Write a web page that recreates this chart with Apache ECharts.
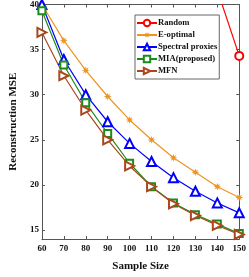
<!DOCTYPE html>
<html><head><meta charset="utf-8">
<script src="https://cdn.jsdelivr.net/npm/echarts@6/dist/echarts.min.js"></script>
<style>html,body{margin:0;padding:0;background:#fff}#c{width:249px;height:277px}</style>
</head><body><div id="c"></div>
<script>
const sampleSizes = [60, 70, 80, 90, 100, 110, 120, 130, 140, 150];
const randomMSE   = [null, null, null, null, null, null, null, null, 41.6, 34.3];
const eOptimal    = [40.0, 36.0, 32.7, 29.8, 27.2, 25.0, 23.0, 21.4, 19.8, 18.6];
const spectral    = [40.0, 33.9, 30.0, 27.0, 24.6, 22.6, 20.8, 19.3, 18.0, 16.9];
const mia         = [39.3, 33.3, 29.1, 25.7, 22.4, 19.8, 18.0, 16.7, 15.65, 14.6];
const mfn         = [36.9, 32.1, 28.3, 25.0, 22.1, 19.8, 17.9, 16.6, 15.5, 14.5];
const yTickValues = [15, 20, 25, 30, 35, 40];

const font = '"Liberation Serif", "Times New Roman", serif';
const axisColor = '#555';
function pairs(arr){ return sampleSizes.map((x,i)=>[x, arr[i]]); }
function mk(name, data, color, symbol, extra){
  return Object.assign({
    name, type:'line', data:pairs(data), clip:true, connectNulls:false,
    symbol, symbolSize:7,
    lineStyle:{color, width:1.2},
    itemStyle:{color, borderColor:color, borderWidth:1.1},
    emphasis:{disabled:true}, z:2
  }, extra||{});
}
const starPath = 'path://M50,0 L58,30 L85,15 L70,42 L100,50 L70,58 L85,85 L58,70 L50,100 L42,70 L15,85 L30,58 L0,50 L30,42 L15,15 L42,30 Z';

const chart = echarts.init(document.getElementById('c'), null, {renderer:'canvas'});
chart.setOption({
  animation:false,
  grid:{left:24, right:8, top:4, bottom:33, containLabel:false},
  xAxis:[{
    type:'value', min:60, max:150, interval:10,
    name:'Sample Size', nameLocation:'middle', nameGap:22,
    nameTextStyle:{fontFamily:font, fontWeight:'bold', fontSize:11, color:'#111'},
    axisLine:{show:true, lineStyle:{color:axisColor, width:1}},
    axisTick:{show:true, inside:true, length:3, lineStyle:{color:axisColor}},
    axisLabel:{fontFamily:font, fontWeight:'bold', fontSize:9, color:'#111', margin:5},
    splitLine:{show:false}
  },{
    type:'value', position:'top', min:60, max:150, interval:10,
    axisLine:{show:true, lineStyle:{color:axisColor, width:1}},
    axisTick:{show:true, inside:true, length:3, lineStyle:{color:axisColor}},
    axisLabel:{show:false}, splitLine:{show:false}
  }],
  yAxis:[{
    type:'value', min:14, max:40,
    name:'Reconstruction MSE', nameLocation:'middle', nameGap:18, nameRotate:90,
    nameTextStyle:{fontFamily:font, fontWeight:'bold', fontSize:11, color:'#111'},
    axisLine:{show:true, lineStyle:{color:axisColor, width:1}},
    axisTick:{show:true, inside:true, length:3, lineStyle:{color:axisColor}, customValues:yTickValues},
    axisLabel:{fontFamily:font, fontWeight:'bold', fontSize:9, color:'#111', margin:3, customValues:yTickValues},
    splitLine:{show:false}
  },{
    type:'value', position:'right', min:14, max:40,
    axisLine:{show:true, lineStyle:{color:axisColor, width:1}},
    axisTick:{show:true, inside:true, length:3, lineStyle:{color:axisColor}, customValues:yTickValues},
    axisLabel:{show:false}, splitLine:{show:false}
  }],
  legend:{
    orient:'vertical', left:135, top:15,
    backgroundColor:'#fff', borderColor:'#666', borderWidth:1, borderRadius:0,
    padding:[3,2,3,1], itemGap:2, itemWidth:20, itemHeight:8,
    textStyle:{fontFamily:font, fontWeight:'bold', fontSize:8.6, color:'#111', padding:[0,0,0,-4], lineHeight:10},
    data:['Random','E-optimal','Spectral proxies','MIA(proposed)','MFN']
  },
  series:[
    mk('Random', randomMSE, '#ff0000', 'emptyCircle', {symbolSize:8}),
    mk('E-optimal', eOptimal, '#ee9420', starPath, {symbolSize:8, itemStyle:{color:'#ee9420', borderWidth:0}}),
    mk('Spectral proxies', spectral, '#0000ff', 'emptyTriangle', {symbolSize:9}),
    mk('MIA(proposed)', mia, '#1a8c1a', 'emptyRect', {symbolSize:7}),
    mk('MFN', mfn, '#a8481c', 'emptyTriangle', {symbolSize:9, symbolRotate:-90})
  ]
});
</script></body></html>
